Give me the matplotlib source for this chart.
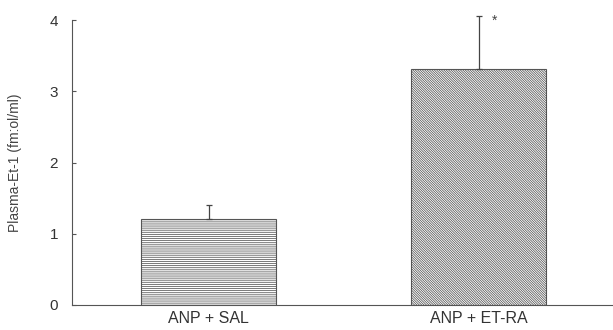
import matplotlib
matplotlib.use("Agg")
import matplotlib.pyplot as plt

categories = ["ANP + SAL", "ANP + ET-RA"]
values = [1.21, 3.31]
errors = [0.19, 0.75]
hatches = ["-" * 8, "\\" * 14]
ylabel = "Plasma-Et-1 (fm:ol/ml)"
yticks = [0, 1, 2, 3, 4]

plt.rcParams['font.family'] = ['Liberation Sans', 'DejaVu Sans']
plt.rcParams['hatch.linewidth'] = 0.55
plt.rcParams['hatch.color'] = '#8c8c8c'

fig = plt.figure(figsize=(6.13, 3.30), dpi=100)
ax = fig.add_axes([72/613, 25/330, 1 - 72/613 + 0.01, 285/330])

x = list(range(len(categories)))
for i in x:
    ax.bar(i, values[i], width=0.5, color='white', edgecolor='#555555',
           linewidth=0.8, hatch=hatches[i], zorder=2)
ax.errorbar(x, values, yerr=[[0, 0], errors], fmt='none', ecolor='#444444',
            elinewidth=0.9, capsize=2.5, capthick=0.9, clip_on=False, zorder=3)
ax.annotate('*', xy=(1, values[1] + errors[1]), xytext=(11, -4),
            textcoords='offset points', ha='center', va='center',
            fontsize=10, color='#444444', annotation_clip=False)

ax.set_xlim(-0.507, 1.52)
ax.set_ylim(0, 4)
ax.set_yticks(yticks)
ax.set_yticklabels([str(t) for t in yticks])
ax.set_xticks(x)
ax.set_xticklabels(categories)
ax.tick_params(axis='y', direction='in', length=3, width=0.8, color='#555555',
               labelsize=11, labelcolor='#333333', pad=10)
ax.tick_params(axis='x', length=0, labelsize=11.5, labelcolor='#333333', pad=4)
ax.set_ylabel(ylabel, fontsize=10, color='#444444', labelpad=20)

for s in ['top', 'right']:
    ax.spines[s].set_visible(False)
for s in ['left', 'bottom']:
    ax.spines[s].set_color('#555555')
    ax.spines[s].set_linewidth(0.8)

fig.savefig('out.png', dpi=100)
